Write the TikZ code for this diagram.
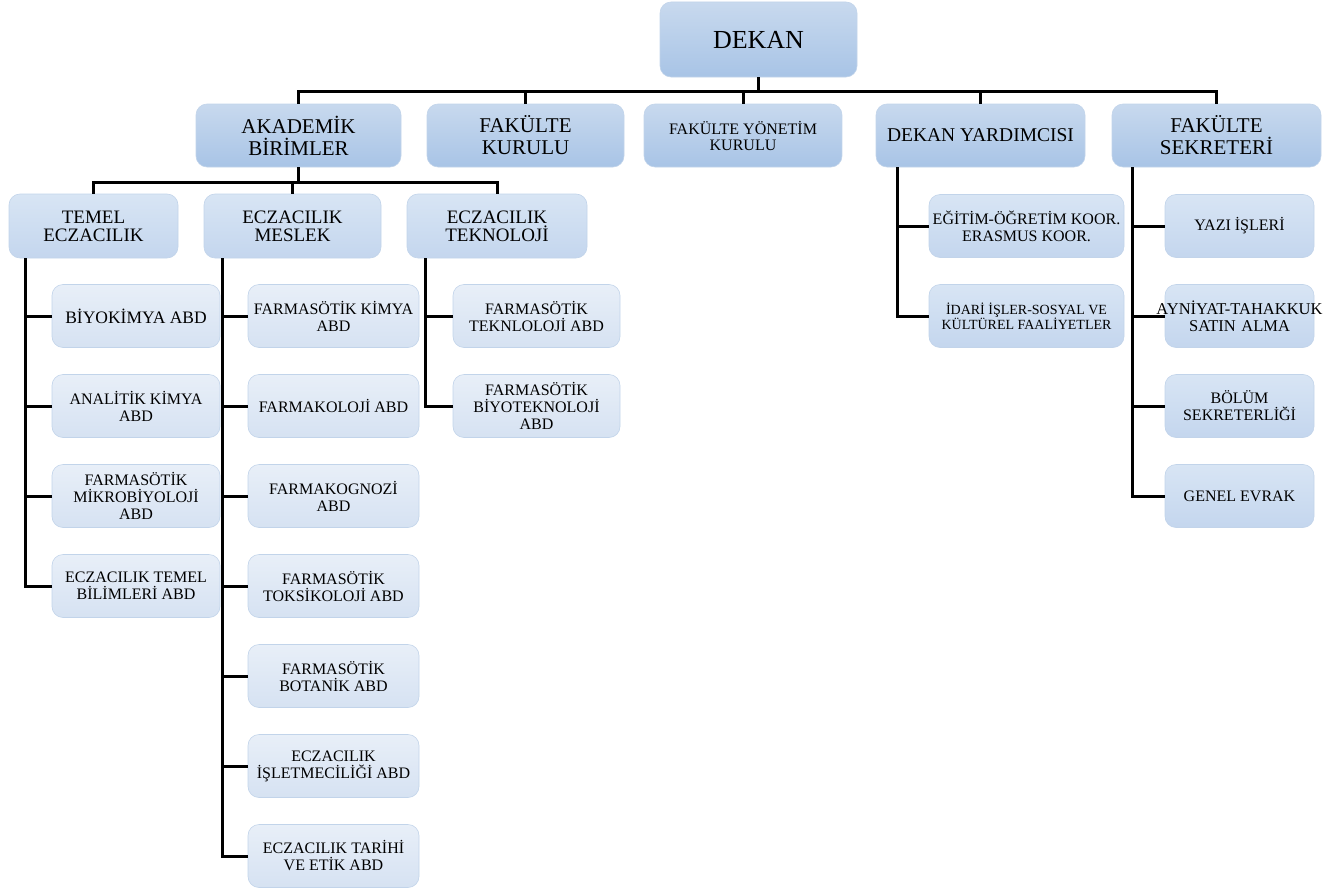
\documentclass[tikz,border=0pt]{standalone}
\usepackage{fontspec}
\setmainfont{Liberation Serif}
\definecolor{topA}{HTML}{C8D9EE}
\definecolor{botA}{HTML}{A8C4E6}
\definecolor{topB}{HTML}{D8E5F4}
\definecolor{botB}{HTML}{C4D6EE}
\definecolor{topC}{HTML}{E8EFF8}
\definecolor{botC}{HTML}{D6E2F2}
\definecolor{edgeC}{HTML}{C2D4EA}
\tikzset{
  box/.style={rounded corners=11pt, draw=edgeC, line width=0.6pt, align=center, inner sep=1pt, text=black},
  lvlA/.style={box, top color=topA, bottom color=botA, minimum height=63pt, font=\fontsize{21}{22}\selectfont},
  lvlB/.style={box, top color=topB, bottom color=botB, minimum height=64pt, font=\fontsize{19}{18}\selectfont},
  leaf/.style={box, top color=topC, bottom color=botC, minimum height=63pt, font=\fontsize{16}{17}\selectfont},
  subleaf/.style={box, top color=topB, bottom color=botB, minimum height=63pt, font=\fontsize{16}{17}\selectfont},
  conn/.style={line width=3pt, black},
}
\begin{document}
\begin{tikzpicture}[x=1pt,y=-1pt]
\useasboundingbox (0,0) rectangle (1343,891);
% top
\node[lvlA, minimum width=197pt, minimum height=75pt, font=\fontsize{26}{28}\selectfont] (dekan) at (758.5,39.5) {DEKAN};
\node[lvlA, minimum width=205pt] (akad) at (298.5,135.5) {AKADEMİK\\BİRİMLER};
\node[lvlA, minimum width=197pt] (kurul) at (525.5,135.5) {FAKÜLTE\\KURULU};
\node[lvlA, minimum width=198pt, font=\fontsize{16}{16}\selectfont] (yonetim) at (743,135.5) {FAKÜLTE YÖNETİM\\KURULU};
\node[lvlA, minimum width=209pt, font=\fontsize{19.5}{21}\selectfont] (dy) at (980.5,135.5) {DEKAN YARDIMCISI};
\node[lvlA, minimum width=209pt] (sek) at (1216.5,135.5) {FAKÜLTE\\SEKRETERİ};
% level 3
\node[lvlB, minimum width=169pt] (temel) at (93.5,226) {TEMEL\\ECZACILIK};
\node[lvlB, minimum width=177pt] (meslek) at (292.5,226) {ECZACILIK\\MESLEK};
\node[lvlB, minimum width=180pt] (tekno) at (497,226) {ECZACILIK\\TEKNOLOJİ};
% temel leaves
\node[leaf, minimum width=168pt, font=\fontsize{17.5}{18}\selectfont] (t1) at (136,316) {BİYOKİMYA ABD};
\node[leaf, minimum width=168pt] (t2) at (136,406) {ANALİTİK KİMYA\\ABD};
\node[leaf, minimum width=168pt] (t3) at (136,496) {FARMASÖTİK\\MİKROBİYOLOJİ\\ABD};
\node[leaf, minimum width=168pt] (t4) at (136,586) {ECZACILIK TEMEL\\BİLİMLERİ ABD};
% meslek leaves
\node[leaf, minimum width=171pt] (m1) at (333.5,316) {FARMASÖTİK KİMYA\\ABD};
\node[leaf, minimum width=171pt] (m2) at (333.5,406) {FARMAKOLOJİ ABD};
\node[leaf, minimum width=171pt] (m3) at (333.5,496) {FARMAKOGNOZİ\\ABD};
\node[leaf, minimum width=171pt] (m4) at (333.5,586) {FARMASÖTİK\\TOKSİKOLOJİ ABD};
\node[leaf, minimum width=171pt] (m5) at (333.5,676) {FARMASÖTİK\\BOTANİK ABD};
\node[leaf, minimum width=171pt] (m6) at (333.5,766) {ECZACILIK\\İŞLETMECİLİĞİ ABD};
\node[leaf, minimum width=171pt] (m7) at (333.5,856) {ECZACILIK TARİHİ\\VE ETİK ABD};
% teknoloji leaves
\node[leaf, minimum width=167pt] (k1) at (536.5,316) {FARMASÖTİK\\TEKNLOLOJİ ABD};
\node[leaf, minimum width=167pt] (k2) at (536.5,406) {FARMASÖTİK\\BİYOTEKNOLOJİ\\ABD};
% dekan yardimcisi leaves
\node[subleaf, minimum width=195pt] (d1) at (1026.5,226) {EĞİTİM-ÖĞRETİM KOOR.\\ERASMUS KOOR.};
\node[subleaf, minimum width=195pt, font=\fontsize{14}{15}\selectfont] (d2) at (1026.5,316) {İDARİ İŞLER-SOSYAL VE\\KÜLTÜREL FAALİYETLER};
% sekreter leaves
\node[subleaf, minimum width=149pt] (s1) at (1239.5,226) {YAZI İŞLERİ};
\node[subleaf, minimum width=149pt, text width=145pt, font=\fontsize{16.5}{17}\selectfont] (s2) at (1239.5,316) {\makebox[\linewidth]{AYNİYAT-TAHAKKUK}\\SATIN ALMA};
\node[subleaf, minimum width=149pt] (s3) at (1239.5,406) {BÖLÜM\\SEKRETERLİĞİ};
\node[subleaf, minimum width=149pt] (s4) at (1239.5,496) {GENEL EVRAK};
% connectors top
\foreach \c in {akad,kurul,yonetim,dy,sek}
  \draw[conn] (dekan.south) -- ++(0,14) -| (\c.north);
\foreach \c in {temel,meslek,tekno}
  \draw[conn] (akad.south) -- ++(0,15) -| (\c.north);
\foreach \c in {t1,t2,t3,t4}
  \draw[conn] ([xshift=17pt]temel.south west) |- (\c.west);
\foreach \c in {m1,m2,m3,m4,m5,m6,m7}
  \draw[conn] ([xshift=19pt]meslek.south west) |- (\c.west);
\foreach \c in {k1,k2}
  \draw[conn] ([xshift=19pt]tekno.south west) |- (\c.west);
\foreach \c in {d1,d2}
  \draw[conn] ([xshift=22pt]dy.south west) |- (\c.west);
\foreach \c in {s1,s2,s3,s4}
  \draw[conn] ([xshift=21pt]sek.south west) |- (\c.west);
\end{tikzpicture}
\end{document}
